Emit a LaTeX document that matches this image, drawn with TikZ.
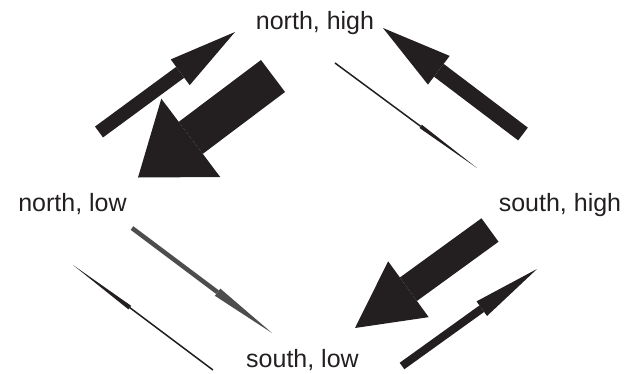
\documentclass[tikz,border=0pt]{standalone}
\usepackage{fontspec}
\setmainfont{Liberation Sans}
\usetikzlibrary{arrows.meta}
\definecolor{ink}{HTML}{231F20}
\definecolor{greyink}{HTML}{4D4D4D}
\begin{document}
\begin{tikzpicture}[x=1pt,y=-1pt,
  lbl/.style={anchor=base,inner sep=0pt,text=ink,font=\fontsize{25}{29}\selectfont},
  flow/.style n args={3}{draw=ink,line width=#1,
    -{Triangle[length=#3,width=#2,line width=0pt]}}]
\useasboundingbox (0,0) rectangle (635,373);
\node[lbl] (nh) at (315,29) {north, high};
\node[lbl] (nl) at (72.5,211) {north, low};
\node[lbl] (sh) at (560,211) {south, high};
\node[lbl] (sl) at (302.5,367) {south, low};
% endpoints
\coordinate (a1s) at (99,132);  \coordinate (a1e) at (235,32);
\coordinate (a2s) at (273,76);  \coordinate (a2e) at (138,177.5);
\coordinate (a3s) at (523,134); \coordinate (a3e) at (383,28);
\coordinate (a4s) at (490,230); \coordinate (a4e) at (355,328);
\coordinate (a5s) at (402,366); \coordinate (a5e) at (537,269);
\coordinate (a6s) at (132,228); \coordinate (a6e) at (272,333);
\coordinate (a7s) at (335,63);  \coordinate (a7e) at (477,168);
\coordinate (a8s) at (213,370); \coordinate (a8e) at (73,265);
\draw[flow={13.5pt}{32pt}{68pt}] (a1s) -- (a1e);
\draw[flow={40pt}{98pt}{66pt}] (a2s) -- (a2e);
\draw[flow={16pt}{36pt}{70pt}] (a3s) -- (a3e);
\draw[flow={29pt}{69pt}{66pt}] (a4s) -- (a4e);
\draw[flow={8pt}{18pt}{68pt}] (a5s) -- (a5e);
\draw[flow={4.5pt}{9pt}{68pt},draw=greyink] (a6s) -- (a6e);
\draw[flow={1.5pt}{4pt}{70pt}] (a7s) -- (a7e);
\draw[flow={1.5pt}{4.5pt}{71pt}] (a8s) -- (a8e);
\end{tikzpicture}
\end{document}
